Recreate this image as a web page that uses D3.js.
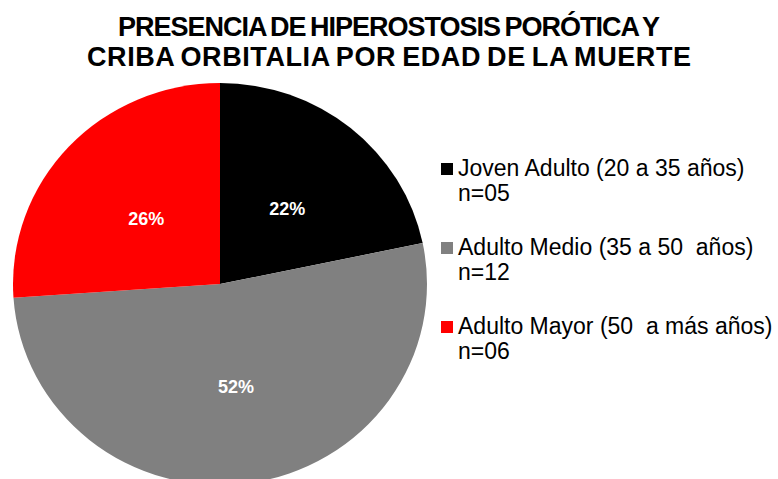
<!DOCTYPE html>
<html>
<head>
<meta charset="utf-8">
<script src="https://cdn.jsdelivr.net/npm/d3@7"></script>
<style>
  html, body { margin: 0; padding: 0; background: #fff; }
  svg { display: block; }
  text { font-family: "Liberation Sans", Arial, sans-serif; white-space: pre; }
</style>
</head>
<body>
<svg id="chart" width="778" height="479"></svg>
<script>
// Age groups at death, case counts and display values
const categories = ["Joven Adulto (20 a 35 años)", "Adulto Medio (35 a 50  años)", "Adulto Mayor (50  a más años)"];
const counts = [5, 12, 6];
const countLabels = ["n=05", "n=12", "n=06"];
const percentLabels = ["22%", "52%", "26%"];
const colors = ["#000000", "#808080", "#ff0000"];
const titleLines = ["PRESENCIA DE HIPEROSTOSIS PORÓTICA Y", "CRIBA ORBITALIA POR EDAD DE LA MUERTE"];
const titleWidths = [542, 604];

const svg = d3.select("#chart");

// Title, two centred lines with tight word gaps
svg.append("g").selectAll("text")
  .data(titleLines)
  .join("text")
  .attr("x", 389)
  .attr("y", (d, i) => 36 + i * 29.5)
  .attr("text-anchor", "middle")
  .attr("font-size", 27)
  .attr("font-weight", "bold")
  .attr("word-spacing", -2)
  .attr("fill", "#000")
  .attr("textLength", (d, i) => titleWidths[i])
  .attr("lengthAdjust", "spacing")
  .text(d => d);

// Pie (slightly wider than tall)
const rx = 207, ry = 201;
const cx = 220, cy = 284;
const pie = d3.pie().sort(null).value(d => d)(counts);
const arc = d3.arc().innerRadius(0).outerRadius(rx);

const pieG = svg.append("g").attr("transform", `translate(${cx},${cy})`);
pieG.append("g")
  .attr("transform", `scale(1,${ry / rx})`)
  .selectAll("path")
  .data(pie)
  .join("path")
  .attr("d", arc)
  .attr("fill", (d, i) => colors[i]);

pieG.selectAll("text")
  .data(pie)
  .join("text")
  .attr("x", d => arc.centroid(d)[0] + 2)
  .attr("y", d => arc.centroid(d)[1] * ry / rx + 3)
  .attr("dy", "0.35em")
  .attr("text-anchor", "middle")
  .attr("font-size", 18)
  .attr("font-weight", "bold")
  .attr("fill", "#fff")
  .text((d, i) => percentLabels[i]);

// Legend
const legend = svg.append("g").attr("transform", "translate(441,0)");
const rows = legend.selectAll("g")
  .data(categories)
  .join("g")
  .attr("transform", (d, i) => `translate(0,${176 + i * 79})`);

rows.append("rect")
  .attr("x", 0)
  .attr("y", -13)
  .attr("width", 12)
  .attr("height", 12)
  .attr("fill", (d, i) => colors[i]);

rows.append("text")
  .attr("x", 17)
  .attr("y", 0)
  .attr("font-size", 23)
  .attr("fill", "#000")
  .text(d => d);

rows.append("text")
  .attr("x", 17)
  .attr("y", 24.5)
  .attr("font-size", 23)
  .attr("fill", "#000")
  .text((d, i) => countLabels[i]);
</script>
</body>
</html>
